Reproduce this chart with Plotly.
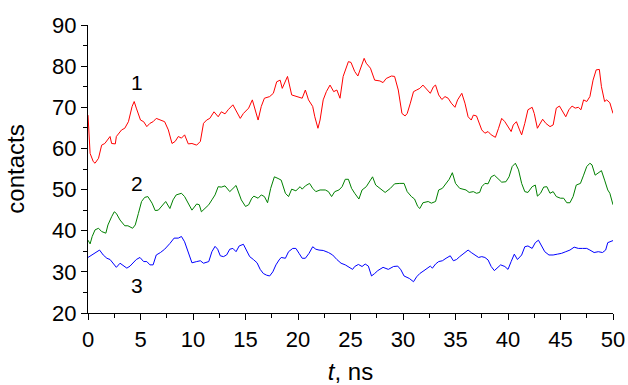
import plotly.graph_objects as go

# ---- data ----
t_red = [0, 0.2, 0.5, 0.67, 1.0, 1.3, 1.6, 2.1, 2.25, 2.6, 2.7, 3.2, 3.5, 3.85, 4.2, 4.4, 4.6, 5.0, 5.3, 5.6,
         5.9, 6.2, 6.5, 6.9, 7.3, 7.65, 8.0, 8.3, 8.6, 8.9, 9.2, 9.55, 9.9, 10.35, 10.7, 11.0, 11.3, 11.6, 12.0, 12.4,
         12.7, 13.05, 13.35, 13.8, 14.2, 14.5, 14.8, 15.1, 15.3, 15.65, 15.9, 16.2, 16.5, 16.8, 17.3, 17.65, 17.97, 18.3, 18.5, 18.8,
         19.0, 19.4, 19.9, 20.4, 20.7, 21.0, 21.4, 21.6, 21.9, 22.1, 22.4, 22.7, 23.05, 23.4, 23.7, 24.0, 24.3, 24.6, 24.8, 25.05,
         25.4, 25.7, 26.0, 26.3, 26.5, 26.9, 27.3, 27.8, 28.1, 28.4, 28.9, 29.2, 29.55, 29.9, 30.2, 30.4, 30.7, 31.0, 31.3, 31.6,
         31.9, 32.3, 32.6, 32.9, 33.1, 33.4, 33.7, 34.0, 34.3, 34.6, 34.95, 35.2, 35.6, 35.9, 36.2, 36.5, 36.7, 37.0, 37.3, 37.5,
         37.8, 38.1, 38.4, 38.8, 39.1, 39.4, 39.7, 40.0, 40.3, 40.5, 40.8, 41.1, 41.3, 41.6, 41.9, 42.3, 42.5, 42.8, 43.05, 43.3,
         43.6, 44.0, 44.3, 44.6, 44.9, 45.1, 45.5, 45.8, 46.1, 46.4, 46.7, 46.95, 47.2, 47.5, 47.8, 48.1, 48.4, 48.7, 48.9, 49.2,
         49.4, 49.7, 50.0]
v_red = [68.1, 58.8, 56.8, 56.4, 57.6, 60.8, 61.2, 62.9, 61.2, 61.1, 62.9, 64.5, 64.9, 66.5, 70.2, 71.4, 69.8, 66.9, 66.5, 65.3,
         66.1, 66.5, 67.3, 66.9, 66.5, 64.5, 61.2, 61.7, 62.9, 62.5, 63.3, 61.1, 61.2, 60.8, 61.7, 66.1, 66.9, 67.3, 68.9, 67.7,
         68.9, 68.4, 69.4, 70.6, 68.9, 67.3, 68.5, 69.4, 69.8, 71.8, 69.4, 66.9, 70.2, 72.2, 72.6, 73.4, 76.2, 76.6, 74.6, 76.6,
         77.5, 73.0, 72.6, 72.2, 74.2, 71.8, 70.2, 67.7, 64.9, 66.9, 71.8, 73.8, 75.4, 73.8, 74.2, 72.2, 77.5, 79.9, 81.1, 80.9,
         78.7, 77.6, 79.9, 81.9, 80.7, 79.5, 76.6, 76.4, 76.0, 77.0, 77.6, 77.5, 74.2, 68.5, 67.9, 68.5, 71.0, 73.8, 74.2, 74.6,
         75.4, 74.2, 73.4, 75.0, 75.4, 73.0, 71.9, 72.6, 72.2, 71.0, 70.0, 71.8, 73.4, 71.0, 67.7, 66.9, 68.1, 67.9, 66.0, 64.5,
         63.7, 64.1, 63.3, 62.7, 64.9, 67.3, 66.5, 65.3, 64.1, 65.7, 66.5, 64.5, 63.3, 66.1, 69.4, 70.0, 68.5, 64.9, 66.1, 67.1,
         66.1, 65.3, 65.7, 69.8, 70.3, 69.4, 67.7, 69.4, 70.3, 69.8, 70.0, 69.4, 71.8, 71.4, 72.6, 76.6, 79.1, 79.2, 75.0, 71.4,
         71.8, 71.1, 68.5]

t_green = [0, 0.2, 0.4, 0.67, 1.0, 1.3, 1.7, 1.9, 2.25, 2.5, 2.7, 3.05, 3.5, 3.8, 4.25, 4.5, 4.8, 5.1, 5.4, 5.7,
           6.1, 6.4, 6.7, 7.0, 7.4, 7.8, 8.1, 8.4, 8.9, 9.2, 9.6, 9.9, 10.35, 10.6, 10.8, 11.1, 11.5, 11.8, 12.1, 12.4,
           12.7, 13.05, 13.5, 14.1, 14.3, 14.6, 15.0, 15.3, 15.6, 15.8, 16.2, 16.5, 16.8, 17.1, 17.4, 17.75, 18.1, 18.4, 18.8, 19.1,
           19.4, 19.8, 20.2, 20.4, 20.7, 21.1, 21.4, 21.7, 22.1, 22.6, 22.9, 23.2, 23.5, 23.9, 24.2, 24.5, 24.8, 25.1, 25.4, 25.8,
           26.1, 26.5, 26.9, 27.1, 27.4, 27.8, 28.3, 28.8, 29.2, 29.7, 30.1, 30.4, 30.8, 31.1, 31.4, 31.6, 31.9, 32.4, 32.7, 33.1,
           33.4, 33.75, 34.1, 34.4, 34.7, 35.0, 35.4, 35.7, 36.0, 36.3, 36.7, 37.0, 37.3, 37.5, 37.8, 38.1, 38.4, 38.7, 39.0, 39.4,
           39.8, 40.1, 40.4, 40.7, 41.0, 41.3, 41.6, 41.9, 42.3, 42.6, 42.8, 43.1, 43.4, 43.7, 44.0, 44.3, 44.6, 45.0, 45.3, 45.6,
           45.9, 46.2, 46.5, 46.9, 47.2, 47.5, 47.8, 48.0, 48.3, 48.5, 48.9, 49.2, 49.5, 49.7, 50.0]
v_green = [37.7, 36.8, 38.6, 40.2, 40.6, 39.8, 39.4, 41.4, 43.4, 44.6, 44.2, 42.6, 41.2, 41.2, 40.6, 41.4, 44.2, 47.1, 48.1, 48.3,
           46.7, 44.9, 45.0, 45.9, 47.1, 45.4, 47.5, 48.7, 49.1, 48.3, 46.3, 45.0, 46.5, 46.3, 44.6, 45.4, 46.3, 47.5, 48.7, 50.7,
           50.6, 50.9, 49.5, 51.0, 49.5, 47.5, 45.9, 46.3, 47.9, 48.4, 47.9, 48.7, 48.3, 46.8, 50.3, 53.1, 52.7, 52.3, 49.1, 48.3,
           50.1, 49.7, 50.7, 50.1, 50.9, 51.5, 50.3, 49.5, 49.9, 49.9, 49.5, 48.3, 49.5, 49.9, 50.7, 52.5, 52.5, 50.3, 49.1, 47.7,
           49.9, 50.7, 52.3, 53.1, 51.1, 50.3, 49.3, 50.3, 51.4, 51.5, 51.5, 49.5, 48.3, 47.7, 45.9, 45.4, 46.8, 47.1, 46.7, 47.1,
           49.9, 50.3, 51.5, 52.5, 54.1, 51.5, 50.3, 50.1, 49.9, 49.3, 49.5, 49.1, 49.3, 50.7, 51.5, 51.4, 53.1, 53.5, 52.7, 51.8,
           51.9, 53.1, 55.6, 56.4, 54.8, 51.5, 49.5, 49.3, 50.7, 51.1, 48.4, 49.1, 50.6, 50.7, 49.1, 49.5, 48.3, 47.9, 47.9, 46.8,
           46.8, 48.3, 51.1, 51.5, 53.5, 55.6, 56.4, 56.0, 53.5, 53.9, 54.6, 52.3, 49.9, 49.1, 46.3]

t_blue = [0, 0.35, 0.8, 1.1, 1.45, 1.8, 2.1, 2.4, 2.7, 3.05, 3.4, 3.7, 4.0, 4.3, 4.6, 4.95, 5.3, 5.6, 5.9, 6.2,
          6.5, 6.9, 7.3, 7.8, 8.2, 8.6, 8.9, 9.2, 9.6, 9.9, 10.35, 10.7, 11.0, 11.5, 11.8, 12.1, 12.35, 12.6, 12.9, 13.2,
          13.5, 13.8, 14.1, 14.4, 14.8, 15.1, 15.4, 15.75, 16.1, 16.4, 16.7, 17.0, 17.3, 17.6, 17.9, 18.2, 18.4, 18.8, 19.1, 19.5,
          19.8, 20.1, 20.4, 20.7, 21.05, 21.4, 21.7, 22.0, 22.4, 22.9, 23.3, 23.7, 24.1, 24.5, 24.9, 25.2, 25.4, 25.75, 26.1, 26.4,
          26.7, 27.0, 27.3, 27.6, 28.1, 28.6, 29.1, 29.5, 29.8, 30.1, 30.6, 31.0, 31.3, 31.6, 32.0, 32.4, 32.6, 32.8, 33.1, 33.4,
          33.75, 34.1, 34.5, 34.8, 35.1, 35.4, 35.8, 36.2, 36.5, 36.9, 37.2, 37.5, 37.8, 38.1, 38.4, 38.7, 39.0, 39.3, 39.7, 40.0,
          40.3, 40.6, 40.9, 41.3, 41.6, 41.9, 42.3, 42.6, 42.9, 43.2, 43.5, 43.9, 44.3, 44.7, 45.1, 45.5, 45.9, 46.3, 46.7, 47.1,
          47.5, 47.8, 48.2, 48.6, 49.0, 49.3, 49.5, 50.0]
v_blue = [33.5, 34.1, 34.9, 35.3, 34.1, 33.3, 33.0, 32.1, 31.1, 32.1, 31.4, 30.9, 31.4, 32.2, 33.0, 33.5, 32.5, 32.5, 31.7, 31.7,
          34.1, 34.7, 35.5, 36.9, 38.2, 38.2, 38.6, 37.3, 34.5, 32.2, 32.5, 32.7, 32.1, 32.5, 34.9, 36.2, 35.5, 33.9, 33.7, 34.1,
          35.5, 35.7, 34.9, 36.3, 36.7, 35.3, 33.7, 33.0, 32.2, 30.6, 29.6, 29.2, 29.0, 30.0, 31.7, 32.9, 33.5, 33.3, 34.9, 35.7,
          35.7, 34.5, 33.3, 33.3, 34.5, 36.1, 35.5, 35.3, 35.2, 34.7, 34.1, 33.0, 32.1, 31.7, 31.1, 30.6, 31.3, 31.8, 31.3, 31.9,
          31.4, 29.0, 29.6, 30.3, 31.1, 30.6, 31.3, 31.4, 30.5, 29.0, 28.4, 27.6, 28.8, 29.6, 30.3, 30.9, 31.4, 30.9, 31.9, 32.5,
          32.7, 33.3, 33.9, 32.7, 33.0, 33.7, 34.5, 35.3, 34.7, 34.1, 33.5, 33.7, 33.5, 32.9, 31.3, 30.3, 31.1, 31.7, 31.3, 30.6,
          32.5, 34.3, 33.0, 34.1, 36.1, 36.3, 35.7, 37.1, 37.7, 36.1, 34.9, 34.1, 34.1, 34.3, 34.5, 34.9, 35.3, 36.0, 35.7, 35.7,
          35.7, 35.3, 34.7, 34.9, 34.7, 35.3, 37.1, 37.6]

curve_labels = ["1", "2", "3"]
label_t = [4.7, 4.7, 4.7]
label_v = [76.0, 51.5, 26.6]

x_ticks = [0, 5, 10, 15, 20, 25, 30, 35, 40, 45, 50]
y_ticks = [20, 30, 40, 50, 60, 70, 80, 90]

# ---- figure ----
FONT = "Arial, 'Liberation Sans', sans-serif"
fig = go.Figure()
for t, v, col in [(t_red, v_red, "#ff0000"), (t_green, v_green, "#008000"), (t_blue, v_blue, "#0000ff")]:
    fig.add_trace(go.Scatter(x=t, y=v, mode="lines", line=dict(color=col, width=1), showlegend=False,
                             hoverinfo="skip"))

for lab, lt, lv in zip(curve_labels, label_t, label_v):
    fig.add_annotation(x=lt, y=lv, text=lab, showarrow=False,
                       font=dict(family=FONT, size=21, color="black"))

axis_common = dict(showgrid=False, zeroline=False, showline=True, linecolor="black", linewidth=1.3,
                   ticks="outside", tickcolor="black", tickwidth=1.3, ticklen=6, automargin=False,
                   tickfont=dict(family=FONT, size=22, color="black"))

fig.update_xaxes(range=[0, 50], tickvals=x_ticks, ticktext=[str(v) for v in x_ticks],
                 minor=dict(dtick=2.5, tick0=0, ticks="outside", ticklen=4, tickcolor="black", tickwidth=1.3),
                 title=dict(text="<i>t</i>, ns", font=dict(family=FONT, size=24, color="black"), standoff=14),
                 **axis_common)
fig.update_yaxes(range=[20, 90], tickvals=y_ticks, ticktext=[str(v) for v in y_ticks],
                 minor=dict(dtick=5, tick0=0, ticks="outside", ticklen=4, tickcolor="black", tickwidth=1.3),
                 title=dict(text="contacts", font=dict(family=FONT, size=24, color="black"), standoff=20),
                 **axis_common)

fig.update_layout(width=628, height=385, margin=dict(l=88, r=15, t=25, b=72),
                  plot_bgcolor="white", paper_bgcolor="white")

fig.write_html("out.html")
